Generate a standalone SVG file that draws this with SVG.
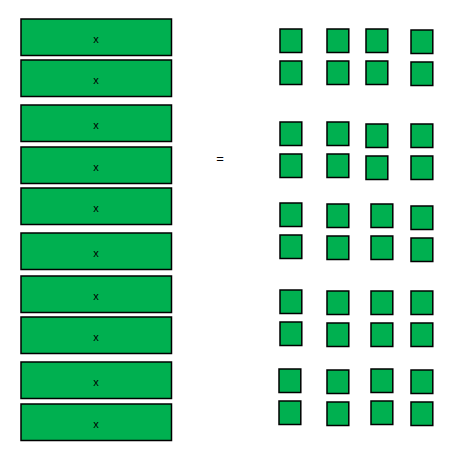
<svg xmlns="http://www.w3.org/2000/svg" width="452" height="455" viewBox="0 0 452 455">
<style>
.b{fill:#00B050;stroke:#000;stroke-width:1.5}
.t{font-family:"Liberation Sans",Arial,sans-serif;font-size:11px;fill:#000;text-anchor:middle}
.eq{font-family:"Liberation Sans",Arial,sans-serif;font-size:13px;fill:#000;text-anchor:middle}
</style>
<rect width="452" height="455" fill="#fff"/>
<g id="bars">
<g id="bar1"><rect class="b" x="21" y="19" width="150.5" height="36.5"/><text class="t" x="96" y="42.7">x</text></g>
<g id="bar2"><rect class="b" x="21" y="60" width="150.5" height="36.5"/><text class="t" x="96" y="83.7">x</text></g>
<g id="bar3"><rect class="b" x="21" y="105" width="150.5" height="36.5"/><text class="t" x="96" y="128.7">x</text></g>
<g id="bar4"><rect class="b" x="21" y="147" width="150.5" height="36.5"/><text class="t" x="96" y="170.7">x</text></g>
<g id="bar5"><rect class="b" x="21" y="188" width="150.5" height="36.5"/><text class="t" x="96" y="211.7">x</text></g>
<g id="bar6"><rect class="b" x="21" y="233" width="150.5" height="36.5"/><text class="t" x="96" y="256.7">x</text></g>
<g id="bar7"><rect class="b" x="21" y="276" width="150.5" height="36.5"/><text class="t" x="96" y="299.7">x</text></g>
<g id="bar8"><rect class="b" x="21" y="317" width="150.5" height="36.5"/><text class="t" x="96" y="340.7">x</text></g>
<g id="bar9"><rect class="b" x="21" y="362" width="150.5" height="36.5"/><text class="t" x="96" y="385.7">x</text></g>
<g id="bar10"><rect class="b" x="21" y="404" width="150.5" height="36.5"/><text class="t" x="96" y="427.7">x</text></g>
</g>
<g id="equals"><text class="eq" x="220" y="163">=</text></g>
<g id="squares">
<g id="g1">
<rect class="b" x="280" y="29" width="21.8" height="23.5"/>
<rect class="b" x="327" y="29" width="21.8" height="23.5"/>
<rect class="b" x="366" y="29" width="21.8" height="23.5"/>
<rect class="b" x="411" y="30" width="21.8" height="23.5"/>
<rect class="b" x="280" y="61" width="21.8" height="23.5"/>
<rect class="b" x="327" y="61" width="21.8" height="23.5"/>
<rect class="b" x="366" y="61" width="21.8" height="23.5"/>
<rect class="b" x="411" y="62" width="21.8" height="23.5"/>
</g>
<g id="g2">
<rect class="b" x="280" y="122" width="21.8" height="23.5"/>
<rect class="b" x="327" y="122" width="21.8" height="23.5"/>
<rect class="b" x="366" y="124" width="21.8" height="23.5"/>
<rect class="b" x="411" y="124" width="21.8" height="23.5"/>
<rect class="b" x="280" y="154" width="21.8" height="23.5"/>
<rect class="b" x="327" y="154" width="21.8" height="23.5"/>
<rect class="b" x="366" y="156" width="21.8" height="23.5"/>
<rect class="b" x="411" y="156" width="21.8" height="23.5"/>
</g>
<g id="g3">
<rect class="b" x="280" y="203" width="21.8" height="23.5"/>
<rect class="b" x="327" y="204" width="21.8" height="23.5"/>
<rect class="b" x="371" y="204" width="21.8" height="23.5"/>
<rect class="b" x="411" y="206" width="21.8" height="23.5"/>
<rect class="b" x="280" y="235" width="21.8" height="23.5"/>
<rect class="b" x="327" y="236" width="21.8" height="23.5"/>
<rect class="b" x="371" y="236" width="21.8" height="23.5"/>
<rect class="b" x="411" y="238" width="21.8" height="23.5"/>
</g>
<g id="g4">
<rect class="b" x="280" y="290" width="21.8" height="23.5"/>
<rect class="b" x="327" y="291" width="21.8" height="23.5"/>
<rect class="b" x="371" y="291" width="21.8" height="23.5"/>
<rect class="b" x="411" y="291" width="21.8" height="23.5"/>
<rect class="b" x="280" y="322" width="21.8" height="23.5"/>
<rect class="b" x="327" y="323" width="21.8" height="23.5"/>
<rect class="b" x="371" y="323" width="21.8" height="23.5"/>
<rect class="b" x="411" y="323" width="21.8" height="23.5"/>
</g>
<g id="g5">
<rect class="b" x="279" y="369" width="21.8" height="23.5"/>
<rect class="b" x="327" y="370" width="21.8" height="23.5"/>
<rect class="b" x="371" y="369" width="21.8" height="23.5"/>
<rect class="b" x="411" y="370" width="21.8" height="23.5"/>
<rect class="b" x="279" y="401" width="21.8" height="23.5"/>
<rect class="b" x="327" y="402" width="21.8" height="23.5"/>
<rect class="b" x="371" y="401" width="21.8" height="23.5"/>
<rect class="b" x="411" y="402" width="21.8" height="23.5"/>
</g>
</g>
<g id="connectors"/>
</svg>
